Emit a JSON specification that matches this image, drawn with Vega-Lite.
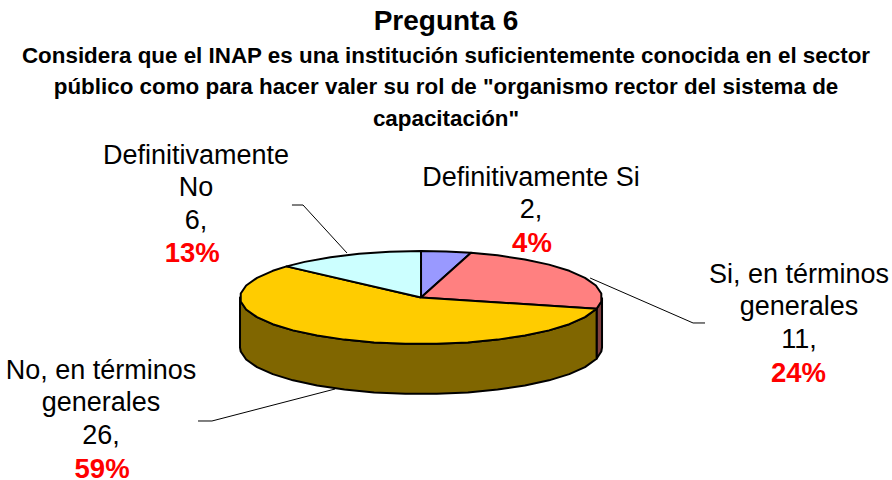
{"$schema":"https://vega.github.io/schema/vega-lite/v6.json","width":892,"height":350,"autosize":"none","padding":{"top":130,"left":0,"right":0,"bottom":0},"background":"white","view":{"stroke":null},
"title":{"text":"Pregunta 6","subtitle":["Considera que el INAP es una institución suficientemente conocida en el sector","público como para hacer valer su rol de \"organismo rector del sistema de","capacitación\""],"anchor":"middle","frame":"group","font":"Liberation Sans","fontSize":28,"fontWeight":"bold","color":"black","subtitleFont":"Liberation Sans","subtitleFontSize":22.4,"subtitleFontWeight":"bold","subtitleColor":"black","subtitleLineHeight":31.5,"subtitlePadding":9,"offset":0},
"datasets":{
"respuestas":[
{"categoria":"Definitivamente Si","valor":2,"porcentaje":"4%","etiqueta":"Definitivamente Si\n2,","x":60.8,"xp":61.3,"y":239.8,"yp":97.8},
{"categoria":"Si, en términos generales","valor":11,"porcentaje":"24%","etiqueta":"Si, en términos\ngenerales\n11,","x":208.8,"xp":208.5,"y":31.2,"yp":-181.7},
{"categoria":"No, en términos generales","valor":26,"porcentaje":"59%","etiqueta":"No, en términos\ngenerales\n26,","x":-176.8,"xp":-176.2,"y":-175.3,"yp":-388},
{"categoria":"Definitivamente No","valor":6,"porcentaje":"13%","etiqueta":"Definitivamente\nNo\n6,","x":-124.3,"xp":-126.4,"y":287.1,"yp":76.3}],
"guias":[
{"g":"a","o":1,"x":93.4,"y":41.9},{"g":"a","o":2,"x":150.3,"y":-54.8},{"g":"a","o":3,"x":156.9,"y":-54.8},
{"g":"b","o":1,"x":-40.9,"y":95.7},{"g":"b","o":2,"x":-65.2,"y":198.9},{"g":"b","o":3,"x":-71.3,"y":198.9},
{"g":"c","o":1,"x":-47.5,"y":-196.8},{"g":"c","o":2,"x":-115.5,"y":-265.6},{"g":"c","o":3,"x":-123.2,"y":-265.6}],
"contorno":[
{"p":"lado si","o":1,"x":100,"y":0},{"p":"lado si","o":2,"x":99.6,"y":-8.7},{"p":"lado si","o":3,"x":97,"y":-24.2},{"p":"lado si","o":4,"x":97,"y":-131.7},{"p":"lado si","o":5,"x":99.6,"y":-116.2},{"p":"lado si","o":6,"x":100,"y":-107.5},{"p":"lado si","o":7,"x":100,"y":0},
{"p":"lado no","o":1,"x":97,"y":-24.2},{"p":"lado no","o":2,"x":90.6,"y":-42.3},{"p":"lado no","o":3,"x":81.9,"y":-57.4},{"p":"lado no","o":4,"x":70.7,"y":-70.7},{"p":"lado no","o":5,"x":57.4,"y":-81.9},{"p":"lado no","o":6,"x":42.3,"y":-90.6},{"p":"lado no","o":7,"x":25.9,"y":-96.6},{"p":"lado no","o":8,"x":8.7,"y":-99.6},{"p":"lado no","o":9,"x":-8.7,"y":-99.6},{"p":"lado no","o":10,"x":-25.9,"y":-96.6},{"p":"lado no","o":11,"x":-42.3,"y":-90.6},{"p":"lado no","o":12,"x":-57.4,"y":-81.9},{"p":"lado no","o":13,"x":-70.7,"y":-70.7},{"p":"lado no","o":14,"x":-81.9,"y":-57.4},{"p":"lado no","o":15,"x":-90.6,"y":-42.3},{"p":"lado no","o":16,"x":-96.6,"y":-25.9},{"p":"lado no","o":17,"x":-99.6,"y":-8.7},{"p":"lado no","o":18,"x":-100,"y":0},{"p":"lado no","o":19,"x":-100,"y":-107.5},{"p":"lado no","o":20,"x":-99.6,"y":-116.2},{"p":"lado no","o":21,"x":-96.6,"y":-133.4},{"p":"lado no","o":22,"x":-90.6,"y":-149.8},{"p":"lado no","o":23,"x":-81.9,"y":-164.9},{"p":"lado no","o":24,"x":-70.7,"y":-178.2},{"p":"lado no","o":25,"x":-57.4,"y":-189.4},{"p":"lado no","o":26,"x":-42.3,"y":-198.1},{"p":"lado no","o":27,"x":-25.9,"y":-204.1},{"p":"lado no","o":28,"x":-8.7,"y":-207.1},{"p":"lado no","o":29,"x":8.7,"y":-207.1},{"p":"lado no","o":30,"x":25.9,"y":-204.1},{"p":"lado no","o":31,"x":42.3,"y":-198.1},{"p":"lado no","o":32,"x":57.4,"y":-189.4},{"p":"lado no","o":33,"x":70.7,"y":-178.2},{"p":"lado no","o":34,"x":81.9,"y":-164.9},{"p":"lado no","o":35,"x":90.6,"y":-149.8},{"p":"lado no","o":36,"x":97,"y":-131.7},{"p":"lado no","o":37,"x":97,"y":-24.2},
{"p":"Definitivamente Si","o":1,"x":0,"y":0},{"p":"Definitivamente Si","o":2,"x":0,"y":100},{"p":"Definitivamente Si","o":3,"x":13.9,"y":99},{"p":"Definitivamente Si","o":4,"x":27.6,"y":96.1},{"p":"Definitivamente Si","o":5,"x":0,"y":0},
{"p":"Si, en términos generales","o":1,"x":0,"y":0},{"p":"Si, en términos generales","o":2,"x":27.6,"y":96.1},{"p":"Si, en términos generales","o":3,"x":42.3,"y":90.6},{"p":"Si, en términos generales","o":4,"x":57.4,"y":81.9},{"p":"Si, en términos generales","o":5,"x":70.7,"y":70.7},{"p":"Si, en términos generales","o":6,"x":81.9,"y":57.4},{"p":"Si, en términos generales","o":7,"x":90.6,"y":42.3},{"p":"Si, en términos generales","o":8,"x":96.6,"y":25.9},{"p":"Si, en términos generales","o":9,"x":99.6,"y":8.7},{"p":"Si, en términos generales","o":10,"x":99.6,"y":-8.7},{"p":"Si, en términos generales","o":11,"x":97,"y":-24.2},{"p":"Si, en términos generales","o":12,"x":0,"y":0},
{"p":"No, en términos generales","o":1,"x":0,"y":0},{"p":"No, en términos generales","o":2,"x":97,"y":-24.2},{"p":"No, en términos generales","o":3,"x":90.6,"y":-42.3},{"p":"No, en términos generales","o":4,"x":81.9,"y":-57.4},{"p":"No, en términos generales","o":5,"x":70.7,"y":-70.7},{"p":"No, en términos generales","o":6,"x":57.4,"y":-81.9},{"p":"No, en términos generales","o":7,"x":42.3,"y":-90.6},{"p":"No, en términos generales","o":8,"x":25.9,"y":-96.6},{"p":"No, en términos generales","o":9,"x":8.7,"y":-99.6},{"p":"No, en términos generales","o":10,"x":-8.7,"y":-99.6},{"p":"No, en términos generales","o":11,"x":-25.9,"y":-96.6},{"p":"No, en términos generales","o":12,"x":-42.3,"y":-90.6},{"p":"No, en términos generales","o":13,"x":-57.4,"y":-81.9},{"p":"No, en términos generales","o":14,"x":-70.7,"y":-70.7},{"p":"No, en términos generales","o":15,"x":-81.9,"y":-57.4},{"p":"No, en términos generales","o":16,"x":-90.6,"y":-42.3},{"p":"No, en términos generales","o":17,"x":-96.6,"y":-25.9},{"p":"No, en términos generales","o":18,"x":-99.6,"y":-8.7},{"p":"No, en términos generales","o":19,"x":-99.6,"y":8.7},{"p":"No, en términos generales","o":20,"x":-96.6,"y":25.9},{"p":"No, en términos generales","o":21,"x":-90.6,"y":42.3},{"p":"No, en términos generales","o":22,"x":-81.9,"y":57.4},{"p":"No, en términos generales","o":23,"x":-74.3,"y":66.9},{"p":"No, en términos generales","o":24,"x":0,"y":0},
{"p":"Definitivamente No","o":1,"x":0,"y":0},{"p":"Definitivamente No","o":2,"x":-74.3,"y":66.9},{"p":"Definitivamente No","o":3,"x":-64.3,"y":76.6},{"p":"Definitivamente No","o":4,"x":-50,"y":86.6},{"p":"Definitivamente No","o":5,"x":-34.2,"y":94},{"p":"Definitivamente No","o":6,"x":-17.4,"y":98.5},{"p":"Definitivamente No","o":7,"x":0,"y":100},{"p":"Definitivamente No","o":8,"x":0,"y":0}]
},
"layer":[
{"data":{"name":"guias"},"mark":{"type":"line","stroke":"black","strokeWidth":1},"encoding":{"x":{"field":"x","type":"quantitative","axis":null,"scale":{"domain":[-232.6,260.2],"nice":false,"zero":false}},"y":{"field":"y","type":"quantitative","axis":null,"scale":{"domain":[-392.5,360.2],"nice":false,"zero":false}},"detail":{"field":"g"},"order":{"field":"o"}}},
{"data":{"name":"contorno"},"mark":{"type":"line","filled":true,"stroke":"black","strokeWidth":2,"strokeJoin":"round"},"encoding":{"x":{"field":"x","type":"quantitative"},"y":{"field":"y","type":"quantitative"},"detail":{"field":"p"},"order":{"field":"o"},"fill":{"field":"p","type":"nominal","legend":null,"scale":{"domain":["lado si","lado no","Definitivamente Si","Si, en términos generales","No, en términos generales","Definitivamente No"],"range":["#804040","#806600","#9999FF","#FF8080","#FFCC00","#CCFFFF"]}}}},
{"data":{"name":"respuestas"},"mark":{"type":"text","font":"Liberation Sans","fontSize":27,"color":"black","align":"center","baseline":"alphabetic","lineBreak":"\n","lineHeight":32.3},"encoding":{"x":{"field":"x","type":"quantitative"},"y":{"field":"y","type":"quantitative"},"text":{"field":"etiqueta"}}},
{"data":{"name":"respuestas"},"mark":{"type":"text","font":"Liberation Sans","fontSize":27.5,"fontWeight":"bold","color":"#FF0000","align":"center","baseline":"alphabetic"},"encoding":{"x":{"field":"xp","type":"quantitative"},"y":{"field":"yp","type":"quantitative"},"text":{"field":"porcentaje"}}}
]}
